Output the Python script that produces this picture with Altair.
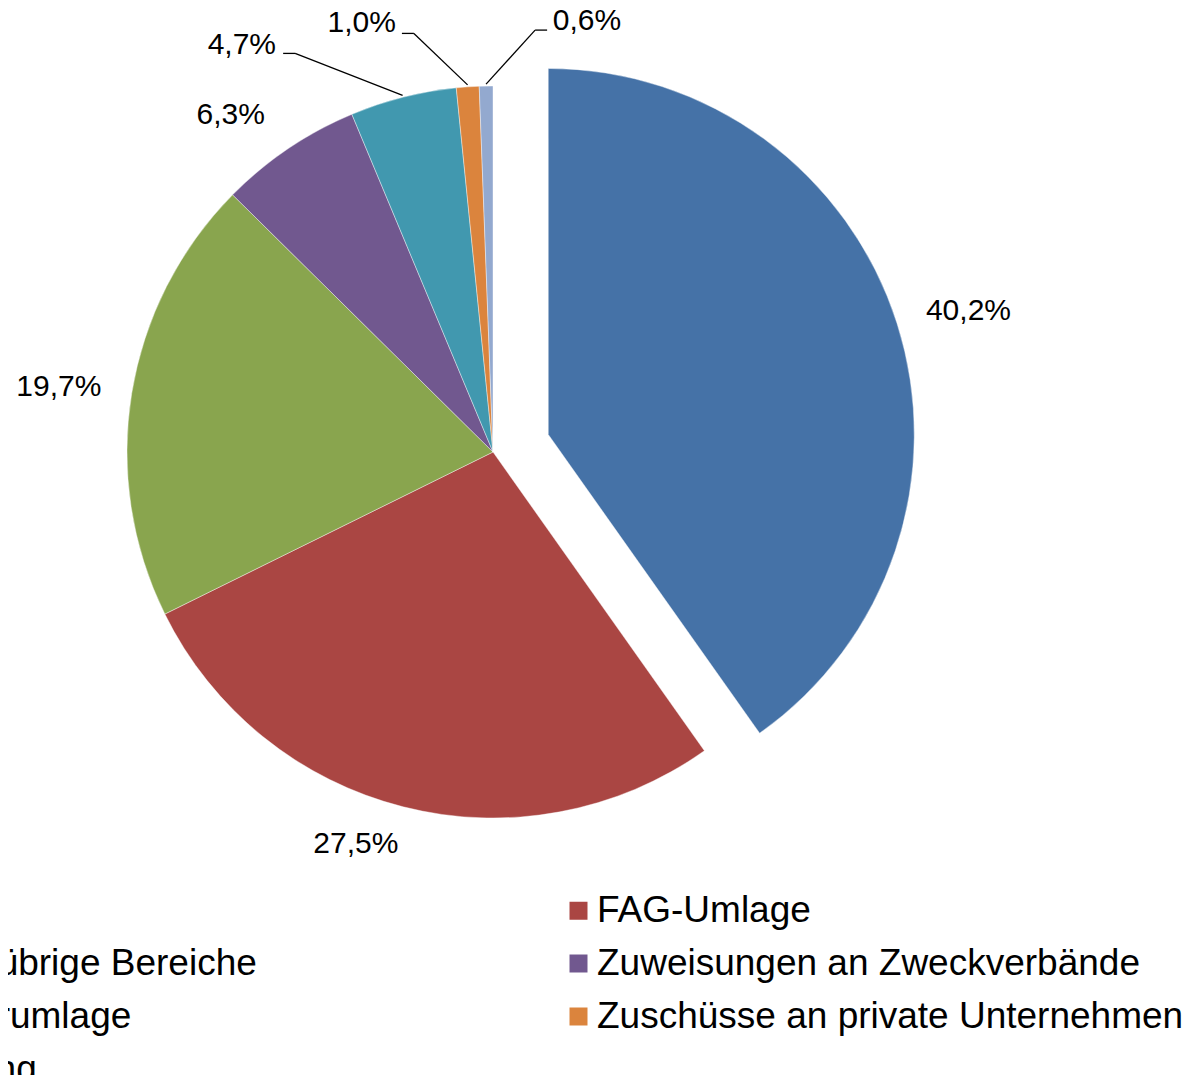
import altair as alt
import pandas as pd

# ---- data ----
categories = [
    "Kreisumlage",
    "FAG-Umlage",
    "Zuschüsse an übrige Bereiche",
    "Zuweisungen an Zweckverbände",
    "Gewerbesteuerumlage",
    "Zuschüsse an private Unternehmen",
    "Kostenerstattung",
]
shares = [40.2, 27.5, 19.7, 6.3, 4.7, 1.0, 0.6]
value_labels = ["40,2%", "27,5%", "19,7%", "6,3%", "4,7%", "1,0%", "0,6%"]
colors = ["#4572A7", "#AA4643", "#89A54E", "#71588F", "#4198AF", "#DB843D", "#93A9CF"]

# ---- layout (polar placement of labels / leader elbows, in degrees & px) ----
explode = [58, 0, 0, 0, 0, 0, 0]
label_angle = [73.6, 199.3, 278.5, 322.1, 328.3, 343.0, 12.3]
label_radius = [438, 415, 439, 427, 478, 449, 441]
elbow_angle = [0, 0, 0, 0, 333.6, 349.3, 5.7]
elbow_radius = [0, 0, 0, 0, 445, 426, 424]

CX, CY, R = 485, 444, 366
FONT = "Liberation Sans"

# legend is laid out row-wise in two columns (Vega fills columns first)
legend_order = [0, 2, 4, 6, 1, 3, 5]
legend_domain = [categories[i] for i in legend_order]
legend_range = [colors[i] for i in legend_order]

df = pd.DataFrame({
    "idx": list(range(len(categories))),
    "category": categories,
    "share": shares,
    "label": value_labels,
    "explode": explode,
    "la": label_angle,
    "lr": label_radius,
    "ea": elbow_angle,
    "er": elbow_radius,
})

base = (
    alt.Chart(df)
    .transform_window(cum="sum(share)", sort=[alt.SortField("idx")], frame=[None, 0])
    .transform_joinaggregate(total="sum(share)")
    .transform_calculate(a0="2*PI*(datum.cum-datum.share)/datum.total")
    .transform_calculate(a1="2*PI*datum.cum/datum.total")
    .transform_calculate(mid="(datum.a0+datum.a1)/2")
    .transform_calculate(cx=f"{CX}+datum.explode*sin(datum.mid)")
    .transform_calculate(cy=f"{CY}-datum.explode*cos(datum.mid)")
    .transform_calculate(lx="datum.cx+datum.lr*sin(datum.la*PI/180)")
    .transform_calculate(ly="datum.cy-datum.lr*cos(datum.la*PI/180)")
    .transform_calculate(sx=f"{CX}+{R + 2}*sin(datum.mid)")
    .transform_calculate(sy=f"{CY}-{R + 2}*cos(datum.mid)")
    .transform_calculate(ex=f"{CX}+datum.er*sin(datum.ea*PI/180)")
    .transform_calculate(ey=f"{CY}-datum.er*cos(datum.ea*PI/180)")
    .transform_calculate(tx="datum.ex + (datum.lx < datum.ex ? -12 : 12)")
)

arcs = base.mark_arc(radius=R, stroke="white", strokeWidth=0.4).encode(
    theta=alt.Theta("a0:Q", scale=None),
    theta2="a1:Q",
    x=alt.X("cx:Q", scale=None, axis=None),
    y=alt.Y("cy:Q", scale=None, axis=None),
    color=alt.Color(
        "category:N",
        scale=alt.Scale(domain=legend_domain, range=legend_range),
        sort=legend_domain,
        legend=alt.Legend(
            title=None,
            orient="none",
            legendX=-288,
            legendY=884,
            columns=2,
            gridAlign="all",
            columnPadding=216,
            rowPadding=15,
            symbolType="square",
            symbolSize=324,
            symbolStrokeWidth=0,
            symbolOffset=0,
            labelOffset=0,
            labelFont=FONT,
            labelFontSize=37,
            labelColor="black",
            labelLimit=2000,
            padding=0,
        ),
    ),
)

leaders = base.transform_filter("datum.er > 0")
rule1 = leaders.mark_rule(color="black", strokeWidth=1.3).encode(
    x=alt.X("sx:Q", scale=None), y=alt.Y("sy:Q", scale=None),
    x2="ex:Q", y2="ey:Q",
)
rule2 = leaders.mark_rule(color="black", strokeWidth=1.3).encode(
    x=alt.X("ex:Q", scale=None), y=alt.Y("ey:Q", scale=None),
    x2="tx:Q", y2="ey:Q",
)

texts = base.mark_text(font=FONT, fontSize=30, align="center", baseline="middle", color="black").encode(
    x=alt.X("lx:Q", scale=None), y=alt.Y("ly:Q", scale=None), text="label:N"
)

chart = (
    alt.layer(arcs, rule1, rule2, texts)
    .properties(width=1182, height=1067, padding=0, autosize=alt.AutoSizeParams(type="none"))
    .configure_view(strokeWidth=0)
)

chart.save("out.html", embed_options={"renderer": "svg", "actions": False})
